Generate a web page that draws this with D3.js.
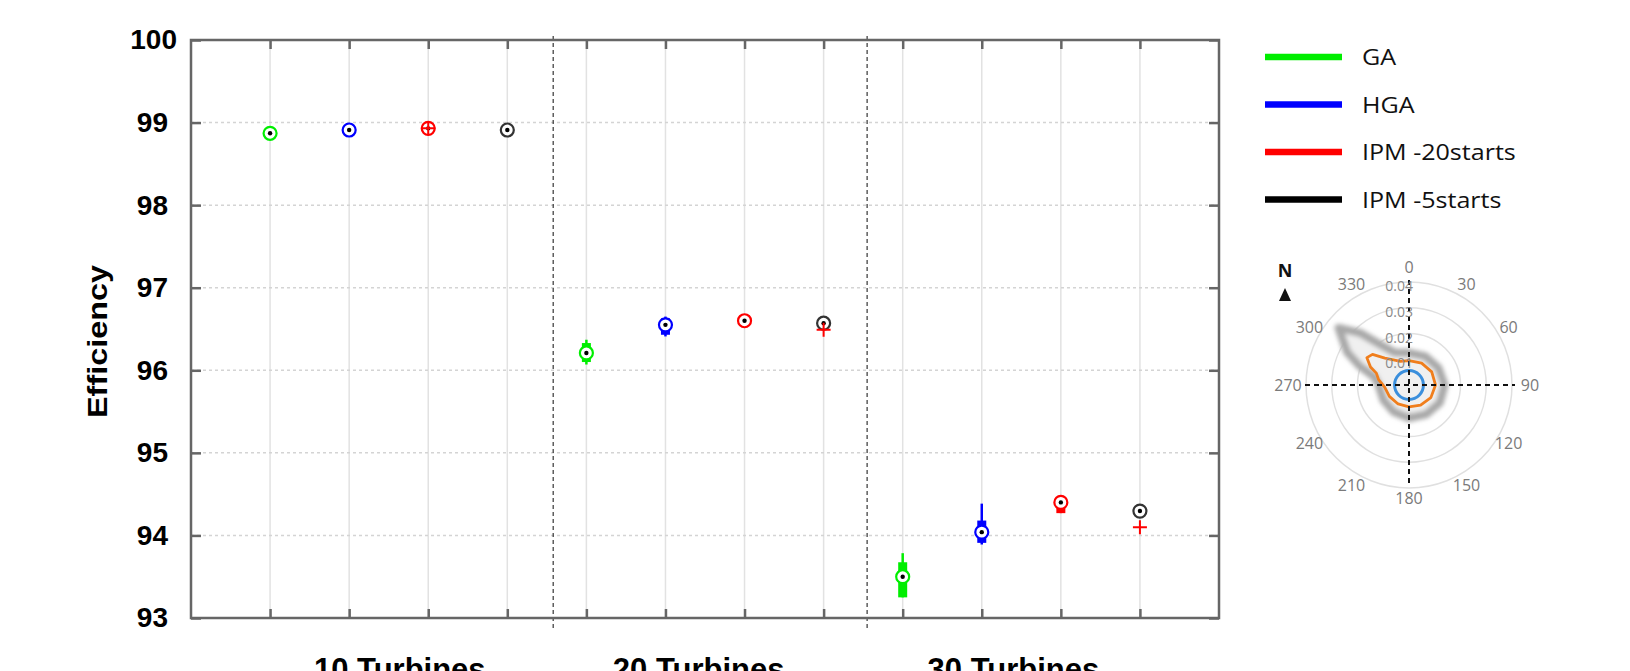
<!DOCTYPE html>
<html lang="en">
  <head>
    <meta charset="UTF-8" />
    <title>Efficiency boxplots</title>
    <script src="https://d3js.org/d3.v7.min.js"></script>
    <style>
      body {
        margin: 0;
        background: #fff;
      }
      svg {
        display: block;
      }
    </style>
  </head>
  <body>
    <svg id="chart"></svg>
    <script>
      const WIDTH = 1630;
      const HEIGHT = 671;

      // groups and methods
      const groups = ["10 Turbines", "20 Turbines", "30 Turbines"];
      const groupLabelPos = [2.64, 6.42, 10.4];
      const methods = ["GA", "HGA", "IPM -20starts", "IPM -5starts"];
      const methodColors = ["#00ee00", "#0000ff", "#ff0000", "#000000"];
      const markerColors = ["#00ee00", "#0000ff", "#ff0000", "#333333"];

      // box statistics, one row per group, one column per method
      const medians = [
        [98.87, 98.91, 98.93, 98.91],
        [96.21, 96.55, 96.6, 96.57],
        [93.5, 94.04, 94.4, 94.295],
      ];
      const q1 = [
        [98.865, 98.905, 98.925, 98.905],
        [96.1, 96.43, 96.58, 96.53],
        [93.25, 93.91, 94.27, 94.26],
      ];
      const q3 = [
        [98.875, 98.915, 98.935, 98.915],
        [96.33, 96.63, 96.62, 96.6],
        [93.675, 94.18, 94.45, 94.32],
      ];
      const whiskerLow = [
        [98.865, 98.905, 98.925, 98.905],
        [96.07, 96.41, 96.58, 96.52],
        [93.25, 93.89, 94.27, 94.26],
      ];
      const whiskerHigh = [
        [98.875, 98.915, 98.935, 98.915],
        [96.37, 96.65, 96.62, 96.6],
        [93.785, 94.385, 94.45, 94.32],
      ];
      // outliers (red +): [group, method, value]
      const outliers = [
        [0, 2, 98.93],
        [1, 3, 96.49],
        [2, 3, 94.1],
      ];

      const yTicks = [93, 94, 95, 96, 97, 98, 99, 100];
      const separators = [4.58, 8.55];

      // wind rose inset
      const roseAngles = [0, 30, 60, 90, 120, 150, 180, 210, 240, 270, 300, 330];
      const roseRings = [0.01, 0.02, 0.03, 0.04];
      const grayRose = [
        [0, 0.0125], [30, 0.0128], [60, 0.0132], [90, 0.0138], [120, 0.0138],
        [150, 0.0132], [180, 0.0128], [210, 0.012], [240, 0.0115], [270, 0.0118],
        [283, 0.0138], [291, 0.0205], [298, 0.0272], [309, 0.0352], [317, 0.0275],
        [325, 0.019], [336, 0.0138], [348, 0.0128],
      ];
      const orangeRose = [
        [0, 0.0095], [30, 0.0098], [60, 0.0102], [90, 0.0103], [120, 0.0098],
        [150, 0.009], [180, 0.0085], [210, 0.0085], [240, 0.0088], [265, 0.0095],
        [280, 0.012], [290, 0.0135], [295, 0.0165], [303, 0.0195], [310, 0.0185],
        [318, 0.014], [328, 0.0115], [340, 0.0098],
      ];
      const blueRose = [0.0056];

      const svg = d3.select("#chart").attr("width", WIDTH).attr("height", HEIGHT);

      const plot = { left: 191, right: 1219, top: 40, bottom: 618 };
      const x = d3.scaleLinear().domain([0, 13]).range([plot.left, plot.right]);
      const y = d3.scaleLinear().domain([93, 100]).range([plot.bottom, plot.top]);
      const pos = (g, m) => g * 4 + m + 1;

      // grid
      const grid = svg.append("g");
      grid
        .selectAll(".vgrid")
        .data(d3.range(1, 13))
        .join("line")
        .attr("x1", (d) => x(d))
        .attr("x2", (d) => x(d))
        .attr("y1", plot.top)
        .attr("y2", plot.bottom)
        .attr("stroke", "#e2e2e2")
        .attr("stroke-width", 1.5);
      grid
        .selectAll(".hgrid")
        .data(yTicks.slice(1, -1))
        .join("line")
        .attr("x1", plot.left)
        .attr("x2", plot.right)
        .attr("y1", (d) => y(d))
        .attr("y2", (d) => y(d))
        .attr("stroke", "#d4d4d4")
        .attr("stroke-width", 1.5)
        .attr("stroke-dasharray", "3,3");

      // separators
      svg
        .append("g")
        .selectAll("line")
        .data(separators)
        .join("line")
        .attr("x1", (d) => x(d))
        .attr("x2", (d) => x(d))
        .attr("y1", plot.top - 4)
        .attr("y2", plot.bottom + 11)
        .attr("stroke", "#222")
        .attr("stroke-width", 1.1)
        .attr("stroke-dasharray", "4,3");

      // frame and ticks
      const frameColor = "#666";
      svg
        .append("rect")
        .attr("x", plot.left)
        .attr("y", plot.top)
        .attr("width", plot.right - plot.left)
        .attr("height", plot.bottom - plot.top)
        .attr("fill", "none")
        .attr("stroke", frameColor)
        .attr("stroke-width", 2.5);

      const xAxisB = d3.axisBottom(x).tickValues(d3.range(1, 13)).tickSize(-9).tickFormat("");
      const xAxisT = d3.axisTop(x).tickValues(d3.range(1, 13)).tickSize(-9).tickFormat("");
      const yAxisL = d3.axisLeft(y).tickValues(yTicks).tickSize(-10).tickPadding(23).tickFormat(d3.format("d"));
      const yAxisR = d3.axisRight(y).tickValues(yTicks).tickSize(-10).tickFormat("");

      function styleAxis(g) {
        g.select(".domain").remove();
        g.selectAll(".tick line").attr("stroke", frameColor).attr("stroke-width", 2.5);
      }
      svg.append("g").attr("transform", `translate(0,${plot.bottom})`).call(xAxisB).call(styleAxis);
      svg.append("g").attr("transform", `translate(0,${plot.top})`).call(xAxisT).call(styleAxis);
      svg.append("g").attr("transform", `translate(${plot.right},0)`).call(yAxisR).call(styleAxis);
      const yg = svg.append("g").attr("transform", `translate(${plot.left},0)`).call(yAxisL).call(styleAxis);
      yg.selectAll(".tick text")
        .attr("font-family", "Liberation Sans, Arial, sans-serif")
        .attr("font-weight", "bold")
        .attr("font-size", 28)
        .attr("fill", "#000")
        .attr("dx", (d) => (d === 100 ? 9 : 0));

      // y title
      svg
        .append("text")
        .attr("transform", `translate(107,${(265 + 418) / 2}) rotate(-90)`)
        .attr("text-anchor", "middle")
        .attr("font-family", "Liberation Sans, Arial, sans-serif")
        .attr("font-weight", "bold")
        .attr("font-size", 28)
        .attr("textLength", 153)
        .attr("lengthAdjust", "spacingAndGlyphs")
        .text("Efficiency");

      // group labels (cut by the bottom edge as in the source figure)
      svg
        .append("g")
        .selectAll("text")
        .data(groups)
        .join("text")
        .attr("x", (d, i) => x(groupLabelPos[i]))
        .attr("y", 680)
        .attr("text-anchor", "middle")
        .attr("font-family", "Liberation Sans, Arial, sans-serif")
        .attr("font-weight", "bold")
        .attr("font-size", 31)
        .text((d) => d);

      // boxes
      const boxes = [];
      groups.forEach((g, gi) =>
        methods.forEach((m, mi) =>
          boxes.push({
            gi,
            mi,
            med: medians[gi][mi],
            q1: q1[gi][mi],
            q3: q3[gi][mi],
            lo: whiskerLow[gi][mi],
            hi: whiskerHigh[gi][mi],
          })
        )
      );

      const bx = svg.append("g");
      bx.selectAll(".whisker")
        .data(boxes)
        .join("line")
        .attr("x1", (d) => x(pos(d.gi, d.mi)))
        .attr("x2", (d) => x(pos(d.gi, d.mi)))
        .attr("y1", (d) => y(d.lo))
        .attr("y2", (d) => y(d.hi))
        .attr("stroke", (d) => methodColors[d.mi])
        .attr("stroke-width", 2.5);
      bx.selectAll(".box")
        .data(boxes)
        .join("rect")
        .attr("x", (d) => x(pos(d.gi, d.mi)) - 4.5)
        .attr("width", 9)
        .attr("y", (d) => y(d.q3))
        .attr("height", (d) => y(d.q1) - y(d.q3))
        .attr("fill", (d) => methodColors[d.mi]);
      bx.selectAll(".med")
        .data(boxes)
        .join("circle")
        .attr("cx", (d) => x(pos(d.gi, d.mi)))
        .attr("cy", (d) => y(d.med))
        .attr("r", 6.5)
        .attr("fill", "#fff")
        .attr("stroke", (d) => markerColors[d.mi])
        .attr("stroke-width", 2.2);
      bx.selectAll(".dot")
        .data(boxes)
        .join("circle")
        .attr("cx", (d) => x(pos(d.gi, d.mi)))
        .attr("cy", (d) => y(d.med))
        .attr("r", 2.2)
        .attr("fill", "#000");

      // outliers
      svg
        .append("g")
        .selectAll("path")
        .data(outliers)
        .join("path")
        .attr("transform", (d) => `translate(${x(pos(d[0], d[1]))},${y(d[2])})`)
        .attr("d", "M-7,0H7M0,-7V7")
        .attr("stroke", "#ff0000")
        .attr("stroke-width", 2)
        .attr("fill", "none");

      // legend
      const legend = svg
        .append("g")
        .selectAll("g")
        .data(methods)
        .join("g")
        .attr("transform", (d, i) => `translate(1265,${57 + i * 47.5})`);
      legend
        .append("line")
        .attr("x1", 0)
        .attr("x2", 77)
        .attr("stroke", (d, i) => methodColors[i])
        .attr("stroke-width", 6.5);
      legend
        .append("text")
        .attr("transform", "translate(97,8) scale(1.14,1)")
        .attr("font-family", "Open Sans, sans-serif")
        .attr("font-size", 22)
        .attr("fill", "#111")
        .text((d) => d);

      // wind rose inset
      const cx = 1409;
      const cy = 385;
      const r = d3.scaleLinear().domain([0, 0.04]).range([0, 103]);
      const rose = svg.append("g").attr("transform", `translate(${cx},${cy})`);
      const defs = svg.append("defs");
      defs
        .append("filter")
        .attr("id", "blur")
        .attr("x", "-20%")
        .attr("y", "-20%")
        .attr("width", "140%")
        .attr("height", "140%")
        .append("feGaussianBlur")
        .attr("stdDeviation", 2.2);

      rose
        .selectAll(".ring")
        .data(roseRings)
        .join("circle")
        .attr("r", (d) => r(d))
        .attr("fill", "none")
        .attr("stroke", "#e0e0e0")
        .attr("stroke-width", 1.5);

      const rad = (a) => (a * Math.PI) / 180;
      const roseLine = d3
        .lineRadial()
        .angle((d) => rad(d[0]))
        .radius((d) => r(d[1]))
        .curve(d3.curveLinearClosed);

      rose
        .append("path")
        .attr("d", roseLine(grayRose))
        .attr("fill", "#f0f0f0")
        .attr("stroke", "#a8a8a8")
        .attr("stroke-width", 8)
        .attr("stroke-linejoin", "round")
        .attr("filter", "url(#blur)");

      rose
        .append("path")
        .attr("d", roseLine(orangeRose))
        .attr("fill", "none")
        .attr("stroke", "#f07e1c")
        .attr("stroke-width", 2.8)
        .attr("stroke-linejoin", "round");

      rose
        .selectAll(".blue")
        .data(blueRose)
        .join("circle")
        .attr("r", (d) => r(d))
        .attr("fill", "none")
        .attr("stroke", "#3b8fdc")
        .attr("stroke-width", 3);

      rose
        .append("line")
        .attr("x1", -104)
        .attr("x2", 106)
        .attr("stroke", "#111")
        .attr("stroke-width", 2)
        .attr("stroke-dasharray", "5,4");
      rose
        .append("line")
        .attr("y1", -105)
        .attr("y2", 100)
        .attr("stroke", "#111")
        .attr("stroke-width", 2)
        .attr("stroke-dasharray", "5,4");

      rose
        .selectAll(".ringlabel")
        .data(roseRings)
        .join("text")
        .attr("x", 4)
        .attr("y", (d) => -r(d) + 9)
        .attr("text-anchor", "end")
        .attr("font-family", "Open Sans, sans-serif")
        .attr("font-size", 14)
        .attr("fill", "#888")
        .text((d) => d.toFixed(2));

      rose
        .selectAll(".anglelabel")
        .data(roseAngles)
        .join("text")
        .attr("x", (d) => Math.sin(rad(d)) * (d % 90 === 0 ? 121 : 115))
        .attr("y", (d) => -Math.cos(rad(d)) * (d === 0 ? 118 : d === 180 ? 113 : 116) + 5.5)
        .attr("text-anchor", "middle")
        .attr("font-family", "Open Sans, sans-serif")
        .attr("font-size", 16)
        .attr("fill", "#7a7a7a")
        .text((d) => d);

      rose
        .append("text")
        .attr("x", -124)
        .attr("y", -108)
        .attr("text-anchor", "middle")
        .attr("font-family", "Open Sans, sans-serif")
        .attr("font-weight", "bold")
        .attr("font-size", 18)
        .attr("fill", "#111")
        .text("N");
      rose
        .append("path")
        .attr("transform", "translate(-124,-90)")
        .attr("d", "M0,-7L6,6H-6Z")
        .attr("fill", "#111");
    </script>
  </body>
</html>
